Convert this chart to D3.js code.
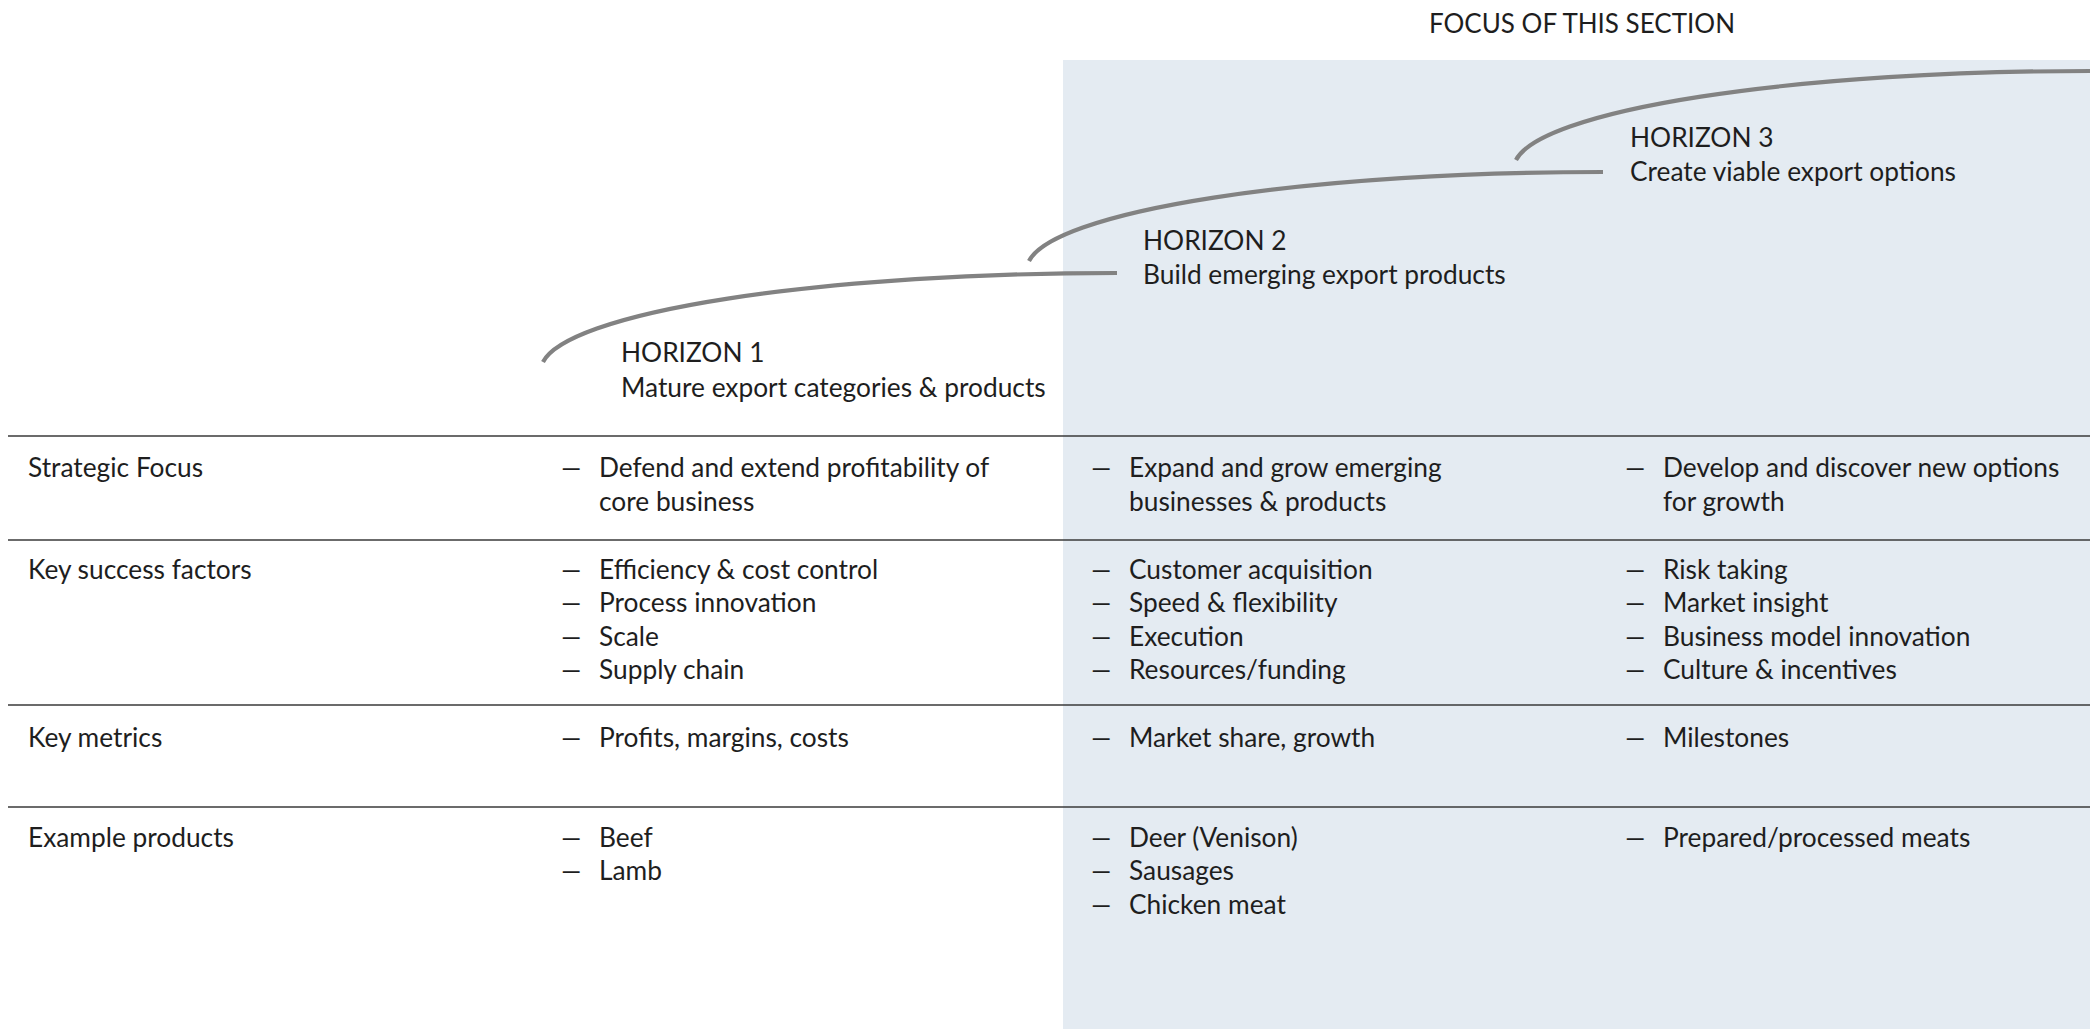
<!DOCTYPE html>
<html><head><meta charset="utf-8">
<script src="https://cdn.jsdelivr.net/npm/d3@7"></script>
<style>body{margin:0;background:#fff;} text{font-family:Lato, "Open Sans", sans-serif;}</style>
</head><body>
<svg id="c" width="2090" height="1029"></svg>
<script>
const title = "FOCUS OF THIS SECTION";
const rowLabels = ["Strategic Focus","Key success factors","Key metrics","Example products"];
const horizonNames = ["HORIZON 1","HORIZON 2","HORIZON 3"];
const horizonDescs = ["Mature export categories & products","Build emerging export products","Create viable export options"];
const horizon1Items = [
  ["Defend and extend profitability of","core business"],
  ["Efficiency & cost control","Process innovation","Scale","Supply chain"],
  ["Profits, margins, costs"],
  ["Beef","Lamb"]
];
const horizon2Items = [
  ["Expand and grow emerging","businesses & products"],
  ["Customer acquisition","Speed & flexibility","Execution","Resources/funding"],
  ["Market share, growth"],
  ["Deer (Venison)","Sausages","Chicken meat"]
];
const horizon3Items = [
  ["Develop and discover new options","for growth"],
  ["Risk taking","Market insight","Business model innovation","Culture & incentives"],
  ["Milestones"],
  ["Prepared/processed meats"]
];
const columns = [horizon1Items, horizon2Items, horizon3Items];

const W = 2090, H = 1029;
const svg = d3.select("#c");
const textColor = "#1e1e1e";
const fs = 26.3;
const lineH = 33.5;

// layout scales
const xCol = d3.scaleOrdinal().domain([0, 1, 2]).range([563, 1093, 1627]);
const yRowTop = d3.scaleOrdinal().domain(rowLabels).range([436, 540, 705, 807]);
const yRowText = d3.scaleOrdinal().domain(rowLabels).range([477, 578.5, 746.5, 846.5]);

// shaded focus area
svg.append("rect").attr("x", 1063).attr("y", 60).attr("width", W - 1063).attr("height", H - 60).attr("fill", "#e4ebf2");

svg.append("text").attr("x", 1582).attr("y", 33).attr("text-anchor", "middle")
  .attr("font-size", 26).attr("fill", textColor).text(title);

// row lines
svg.selectAll("line.row").data(rowLabels).join("line")
  .attr("x1", 8).attr("x2", W).attr("y1", d => yRowTop(d)).attr("y2", d => yRowTop(d))
  .attr("stroke", "#3a3a3a").attr("stroke-width", 1.6);

// row labels
svg.selectAll("text.rl").data(rowLabels).join("text")
  .attr("x", 28).attr("y", d => yRowText(d)).attr("font-size", fs).attr("fill", textColor).text(d => d);

// column items
columns.forEach((col, ci) => {
  col.forEach((items, ri) => {
    const base = yRowText(rowLabels[ri]);
    const isWrap = ri === 0; // first row is one wrapped item
    items.forEach((t, k) => {
      const y = base + k * lineH;
      if (!isWrap || k === 0) {
        svg.append("text").attr("transform", `translate(${xCol(ci) - 4},${y}) scale(1.6,1)`)
          .attr("font-size", fs).attr("fill", textColor).text("–");
      }
      svg.append("text").attr("x", xCol(ci) + 36).attr("y", y).attr("font-size", fs).attr("fill", textColor).text(t);
    });
  });
});

// horizon curves: elliptical arcs from start (bottom-left) to end (top-right)
const curveStartX = d3.scaleOrdinal().domain([0, 1, 2]).range([543, 1029, 1516]);
const curveStartY = d3.scaleOrdinal().domain([0, 1, 2]).range([362, 261, 160]);
const curveW = 574, curveH = 89;
const th0 = 5 * Math.PI / 180;
horizonNames.forEach((n, i) => {
  const x0 = curveStartX(i), y0 = curveStartY(i);
  const x1 = x0 + curveW, y1 = y0 - curveH;
  const rx = curveW / Math.cos(th0), ry = curveH / (1 - Math.sin(th0));
  svg.append("path").attr("d", `M${x0},${y0} A${rx},${ry} 0 0 1 ${x1},${y1}`)
    .attr("fill", "none").attr("stroke", "#828282").attr("stroke-width", 4.2);
});

// horizon labels
const labelX = d3.scaleOrdinal().domain([0, 1, 2]).range([621, 1143, 1630]);
const labelY = d3.scaleOrdinal().domain([0, 1, 2]).range([362, 249.5, 146.5]);
horizonNames.forEach((n, i) => {
  svg.append("text").attr("x", labelX(i)).attr("y", labelY(i)).attr("font-size", fs).attr("fill", textColor).text(n);
  svg.append("text").attr("x", labelX(i)).attr("y", labelY(i) + 34.5).attr("font-size", fs).attr("fill", textColor).text(horizonDescs[i]);
});
</script>
</body></html>
